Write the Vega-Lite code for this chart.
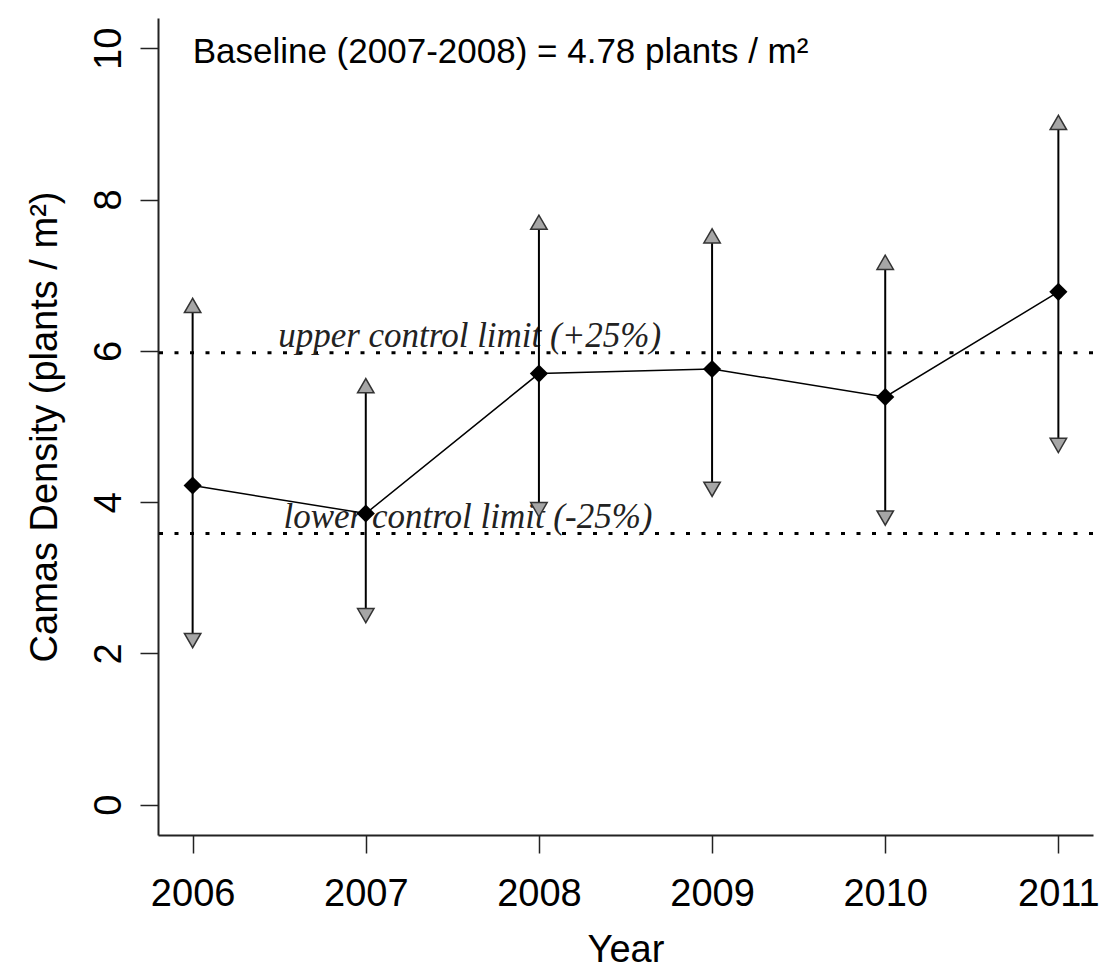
{
  "$schema": "https://vega.github.io/schema/vega-lite/v6.json",
  "autosize": {"type": "none"},
  "padding": {"left": 158, "top": 18, "right": 9, "bottom": 136},
  "width": 935,
  "height": 817,
  "background": "white",
  "config": {
    "view": {"stroke": null},
    "font": "Liberation Sans",
    "axis": {"grid": false, "domainColor": "#222", "domainWidth": 2, "tickColor": "#222", "tickWidth": 1.5, "tickSize": 18, "labelFont": "Liberation Sans", "titleFont": "Liberation Sans", "labelColor": "black", "titleColor": "black", "titleFontWeight": "normal", "labelFontSize": 38, "titleFontSize": 38}
  },
  "datasets": {
    "density": [
      {"year": 2006, "mean": 4.22, "lo": 2.17, "hi": 6.6},
      {"year": 2007, "mean": 3.85, "lo": 2.5, "hi": 5.54},
      {"year": 2008, "mean": 5.7, "lo": 3.9, "hi": 7.7},
      {"year": 2009, "mean": 5.76, "lo": 4.17, "hi": 7.52},
      {"year": 2010, "mean": 5.39, "lo": 3.79, "hi": 7.17},
      {"year": 2011, "mean": 6.78, "lo": 4.75, "hi": 9.02}
    ],
    "limits": [
      {"limit": 5.975, "label": "upper control limit (+25%)", "x": 2007.6},
      {"limit": 3.585, "label": "lower control limit (-25%)", "x": 2007.59}
    ],
    "note": [
      {"x": 2006, "y": 10, "text": "Baseline (2007-2008) = 4.78 plants / m²"}
    ]
  },
  "layer": [
    {
      "data": {"name": "limits"},
      "mark": {"type": "rule", "color": "black", "strokeWidth": 3, "strokeDash": [4, 11.5]},
      "encoding": {
        "y": {"field": "limit", "type": "quantitative", "scale": {"domain": [-0.4, 10.4], "nice": false, "zero": false}}
      }
    },
    {
      "data": {"name": "limits"},
      "mark": {"type": "text", "font": "Liberation Serif", "fontStyle": "italic", "fontSize": 35, "color": "#222", "align": "center", "baseline": "alphabetic", "dy": -6},
      "encoding": {
        "x": {"field": "x", "type": "quantitative"},
        "y": {"field": "limit", "type": "quantitative"},
        "text": {"field": "label"}
      }
    },
    {
      "data": {"name": "density"},
      "mark": {"type": "rule", "color": "black", "strokeWidth": 2},
      "encoding": {
        "x": {"field": "year", "type": "quantitative"},
        "y": {"field": "lo", "type": "quantitative"},
        "y2": {"field": "hi"}
      }
    },
    {
      "data": {"name": "density"},
      "mark": {"type": "line", "color": "black", "strokeWidth": 1.5},
      "encoding": {
        "x": {"field": "year", "type": "quantitative"},
        "y": {"field": "mean", "type": "quantitative"}
      }
    },
    {
      "data": {"name": "density"},
      "mark": {"type": "point", "shape": "triangle-up", "filled": true, "fill": "#a6a6a6", "stroke": "#333", "strokeWidth": 1.5, "size": 270, "opacity": 1},
      "encoding": {
        "x": {"field": "year", "type": "quantitative"},
        "y": {"field": "hi", "type": "quantitative"}
      }
    },
    {
      "data": {"name": "density"},
      "mark": {"type": "point", "shape": "triangle-down", "filled": true, "fill": "#a6a6a6", "stroke": "#333", "strokeWidth": 1.5, "size": 270, "opacity": 1},
      "encoding": {
        "x": {"field": "year", "type": "quantitative"},
        "y": {"field": "lo", "type": "quantitative"}
      }
    },
    {
      "data": {"name": "density"},
      "mark": {"type": "point", "shape": "diamond", "filled": true, "color": "black", "size": 330, "opacity": 1},
      "encoding": {
        "x": {"field": "year", "type": "quantitative", "title": "Year",
          "scale": {"domain": [2005.8, 2011.2], "nice": false, "zero": false},
          "axis": {"values": [2006, 2007, 2008, 2009, 2010, 2011], "format": "d", "labelPadding": 22, "titlePadding": 18, "labelFlush": false, "labelOverlap": false}},
        "y": {"field": "mean", "type": "quantitative", "title": "Camas Density (plants / m²)",
          "scale": {"domain": [-0.4, 10.4], "nice": false, "zero": false},
          "axis": {"values": [0, 2, 4, 6, 8, 10], "format": "d", "labelAngle": 270, "labelAlign": "center", "labelBaseline": "bottom", "labelPadding": 12, "titlePadding": 26, "labelFlush": false}}
      }
    },
    {
      "data": {"name": "note"},
      "mark": {"type": "text", "fontSize": 35, "align": "left", "baseline": "middle", "color": "black", "dy": 4},
      "encoding": {
        "x": {"field": "x", "type": "quantitative"},
        "y": {"field": "y", "type": "quantitative"},
        "text": {"field": "text"}
      }
    }
  ]
}
